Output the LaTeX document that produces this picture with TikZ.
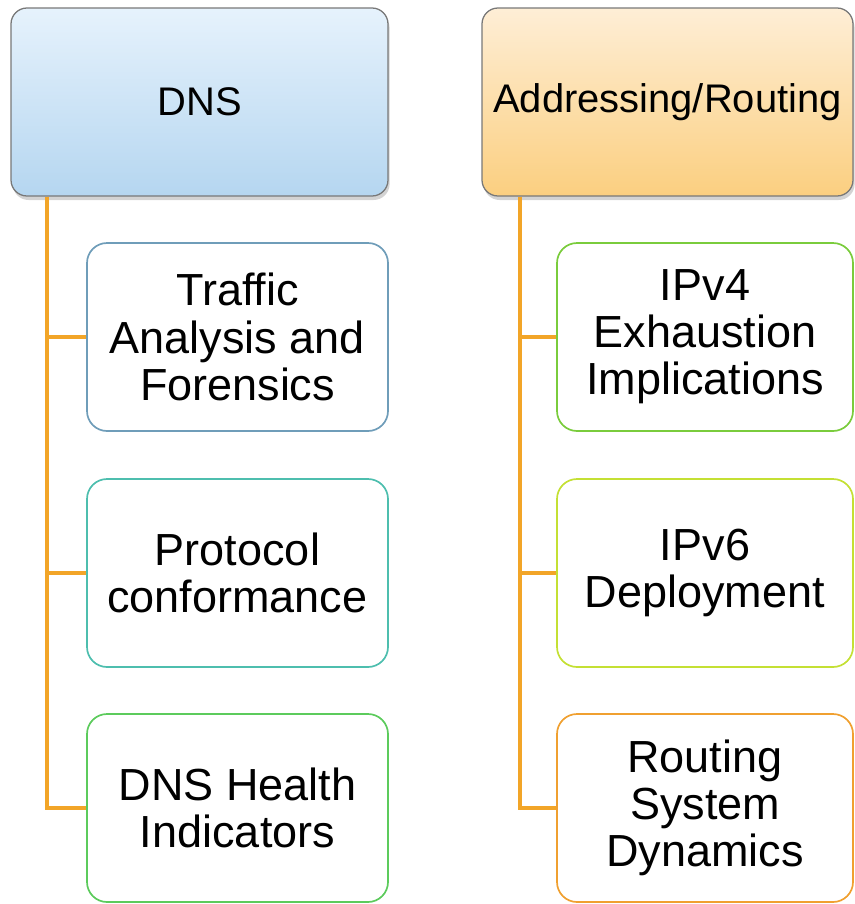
\documentclass[tikz,border=0pt]{standalone}
\usepackage{fontspec}
\setmainfont{Liberation Sans}
\usetikzlibrary{shadows}
\definecolor{branchorange}{RGB}{242,165,40}
\definecolor{dnstop}{RGB}{230,242,252}
\definecolor{dnsbot}{RGB}{181,214,240}
\definecolor{addrtop}{RGB}{254,238,214}
\definecolor{addrbot}{RGB}{251,207,128}
\definecolor{framegray}{RGB}{120,120,120}
\begin{document}
\begin{tikzpicture}
\tikzstyle{title}=[draw=framegray,line width=0.9pt,rounded corners=0.4cm,
  minimum height=4.7cm,inner sep=0pt,align=center,
  font=\fontsize{28.4}{33}\selectfont,
  drop shadow={shadow xshift=0.04cm,shadow yshift=-0.1cm,opacity=0.35}]
\tikzstyle{leaf}=[draw,fill=white,line width=1.2pt,rounded corners=0.5cm,
  minimum height=4.7cm,inner sep=0pt,align=center,
  font=\fontsize{32}{33.5}\selectfont]
\tikzstyle{branch}=[draw=branchorange,line width=3.2pt]
\useasboundingbox (0,0) rectangle (21.35,-22.6);
% column heads
\node [title,minimum width=9.425cm,top color=dnstop,bottom color=dnsbot]
  (dns) at (4.9875,-2.55) {DNS};
\node [title,minimum width=9.275cm,top color=addrtop,bottom color=addrbot]
  (addr) at (16.6875,-2.55) {Addressing/Routing};
% DNS topics
\node [leaf,minimum width=7.525cm,draw={rgb,255:red,111;green,157;blue,185}]
  (traffic) at (5.9375,-8.425) {Traffic\\Analysis and\\Forensics};
\node [leaf,minimum width=7.525cm,draw={rgb,255:red,77;green,190;blue,174}]
  (proto) at (5.9375,-14.325) {Protocol\\conformance};
\node [leaf,minimum width=7.525cm,draw={rgb,255:red,92;green,203;blue,92}]
  (health) at (5.9375,-20.2) {DNS Health\\Indicators};
% addressing topics
\node [leaf,minimum width=7.4cm,draw={rgb,255:red,122;green,204;blue,60}]
  (ipv4) at (17.625,-8.425) {IPv4\\Exhaustion\\Implications};
\node [leaf,minimum width=7.4cm,draw={rgb,255:red,196;green,224;blue,52}]
  (ipv6) at (17.625,-14.325) {IPv6\\Deployment};
\node [leaf,minimum width=7.4cm,draw={rgb,255:red,240;green,160;blue,48}]
  (rsd) at (17.625,-20.2) {Routing\\System\\Dynamics};
% trunks
\coordinate (lt) at (1.175,0);
\coordinate (rt) at (13,0);
\path[branch]
    (lt |- dns.south) edge [to path={|- (\tikztotarget)}] (traffic.west)
    (lt |- dns.south) edge [to path={|- (\tikztotarget)}] (proto.west)
    (lt |- dns.south) edge [to path={|- (\tikztotarget)}] (health.west);
\path[branch]
    (rt |- addr.south) edge [to path={|- (\tikztotarget)}] (ipv4.west)
    (rt |- addr.south) edge [to path={|- (\tikztotarget)}] (ipv6.west)
    (rt |- addr.south) edge [to path={|- (\tikztotarget)}] (rsd.west);
\end{tikzpicture}
\end{document}
